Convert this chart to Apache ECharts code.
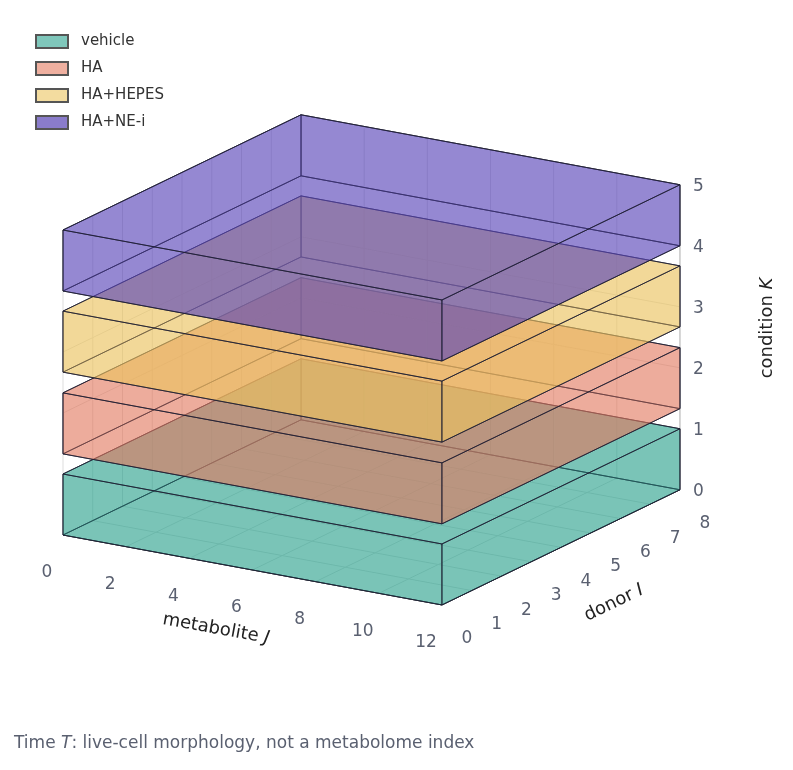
<!DOCTYPE html>
<html>
<head>
<meta charset="utf-8">
<script src="https://cdn.jsdelivr.net/npm/echarts@6/dist/echarts.min.js"></script>
<style>html,body{margin:0;padding:0;background:#fff}#chart{width:793px;height:770px}</style>
</head>
<body>
<div id="chart"></div>
<script>
'use strict';

const conditions = ['vehicle', 'HA', 'HA+HEPES', 'HA+NE-i'];
const colors = ['rgba(40,160,140,0.38)', 'rgba(225,120,95,0.38)', 'rgba(235,195,95,0.4)', 'rgba(90,70,185,0.4)'];
const legendColors = ['#7fc7bb', '#efb0a0', '#f3dc9f', '#8a7ccb'];
const kLow = [0, 1.33, 2.67, 4];
const kHigh = [1, 2.33, 3.67, 5];
const jRange = [0, 12];
const iRange = [0, 8];
const jTicks = [0, 2, 4, 6, 8, 10, 12];
const iTicks = [0, 1, 2, 3, 4, 5, 6, 7, 8];
const kTicks = [0, 1, 2, 3, 4, 5];

// simple oblique projection of (J, I, K) onto the page
const O = [63, 535], VJ = [31.58, 5.83], VI = [29.75, -14.4], VK = [0, -61];
function proj(j, i, k) {
    return [O[0] + j * VJ[0] + i * VI[0] + k * VK[0], O[1] + j * VJ[1] + i * VI[1] + k * VK[1]];
}

const font = 'DejaVu Sans, sans-serif';
const lineStyle = c => ({ stroke: c, lineWidth: 1 });

function renderGrid() {
    const els = [];
    const J1 = jRange[1], I1 = iRange[1], K1 = kTicks[kTicks.length - 1];
    const seg = (a, b, c) => els.push({ type: 'line', shape: { x1: a[0], y1: a[1], x2: b[0], y2: b[1] }, style: lineStyle(c) });
    jTicks.forEach(j => { seg(proj(j, 0, 0), proj(j, I1, 0), '#ddd'); seg(proj(j, I1, 0), proj(j, I1, K1), '#ddd'); });
    iTicks.forEach(i => { seg(proj(0, i, 0), proj(J1, i, 0), '#ddd'); seg(proj(0, i, 0), proj(0, i, K1), '#ddd'); });
    kTicks.forEach(k => { seg(proj(0, 0, k), proj(0, I1, k), '#ddd'); seg(proj(0, I1, k), proj(J1, I1, k), '#ddd'); });
    seg(proj(0, I1, K1), proj(J1, I1, K1), '#bbb');
    seg(proj(0, 0, K1), proj(0, I1, K1), '#bbb');
    seg(proj(0, 0, 0), proj(J1, 0, 0), '#444');
    seg(proj(J1, 0, 0), proj(J1, I1, 0), '#444');
    seg(proj(J1, I1, 0), proj(J1, I1, K1), '#bbb');
    const txt = (p, s, opt) => els.push(Object.assign({ type: 'text', x: p[0], y: p[1],
        style: Object.assign({ text: s, fill: '#5a6070', font: '17px ' + font, align: 'center', verticalAlign: 'middle' }, opt || {}) }));
    jTicks.forEach(j => { const p = proj(j, 0, 0); txt([p[0] - 16, p[1] + 38], String(j)); });
    iTicks.forEach(i => { const p = proj(J1, i, 0); txt([p[0] + 25, p[1] + 34], String(i)); });
    kTicks.forEach(k => { const p = proj(J1, I1, k); txt([p[0] + 13, p[1] + 2], String(k), { align: 'left' }); });
    const rich = { i: { fontStyle: 'italic', fontSize: 18, fill: '#222', fontFamily: font } };
    els.push({ type: 'text', x: 216, y: 629, rotation: -0.18,
        style: { text: 'metabolite {i|J}', fill: '#222', font: '18px ' + font, align: 'center', verticalAlign: 'middle', rich } });
    els.push({ type: 'text', x: 614, y: 603, rotation: 0.45,
        style: { text: 'donor {i|I}', fill: '#222', font: '18px ' + font, align: 'center', verticalAlign: 'middle', rich } });
    els.push({ type: 'text', x: 767, y: 328, rotation: Math.PI / 2,
        style: { text: 'condition {i|K}', fill: '#222', font: '18px ' + font, align: 'center', verticalAlign: 'middle', rich } });
    return { type: 'group', children: els };
}

function renderBox(params, api) {
    const j0 = api.value(0), j1 = api.value(1), i0 = api.value(2), i1 = api.value(3), k0 = api.value(4), k1 = api.value(5);
    const fill = colors[params.seriesIndex - 1];
    const face = pts => ({ type: 'polygon', shape: { points: pts.map(p => proj(p[0], p[1], p[2])) },
        style: { fill: fill, stroke: 'rgba(30,30,50,0.85)', lineWidth: 1 } });
    return { type: 'group', children: [
        face([[j0, i0, k0], [j1, i0, k0], [j1, i1, k0], [j0, i1, k0]]),
        face([[j0, i1, k0], [j1, i1, k0], [j1, i1, k1], [j0, i1, k1]]),
        face([[j0, i0, k0], [j0, i1, k0], [j0, i1, k1], [j0, i0, k1]]),
        face([[j0, i0, k0], [j1, i0, k0], [j1, i0, k1], [j0, i0, k1]]),
        face([[j1, i0, k0], [j1, i1, k0], [j1, i1, k1], [j1, i0, k1]]),
        face([[j0, i0, k1], [j1, i0, k1], [j1, i1, k1], [j0, i1, k1]])
    ] };
}

const series = [{ type: 'custom', coordinateSystem: 'none', silent: true, data: [[0]], renderItem: renderGrid }];
conditions.forEach((name, n) => {
    series.push({ name, type: 'custom', coordinateSystem: 'none',
        itemStyle: { color: legendColors[n], borderColor: '#555', borderWidth: 1 },
        data: [[jRange[0], jRange[1], iRange[0], iRange[1], kLow[n], kHigh[n]]],
        renderItem: renderBox });
});

const chart = echarts.init(document.getElementById('chart'));
chart.setOption({
    animation: false,
    legend: {
        data: conditions.map(name => ({ name, icon: 'rect' })),
        orient: 'vertical', left: 30, top: 29, itemWidth: 32, itemHeight: 13, itemGap: 12,
        textStyle: { color: '#333', fontSize: 15, fontFamily: font, padding: [0, 0, 0, 8] }
    },
    graphic: [{ type: 'text', left: 14, top: 735,
        style: { text: 'Time {i|T}: live-cell morphology, not a metabolome index', fill: '#5a6070', font: '17px ' + font,
            rich: { i: { fontStyle: 'italic', fontSize: 17, fill: '#5a6070', fontFamily: font } } } }],
    series
});
</script>
</body>
</html>
